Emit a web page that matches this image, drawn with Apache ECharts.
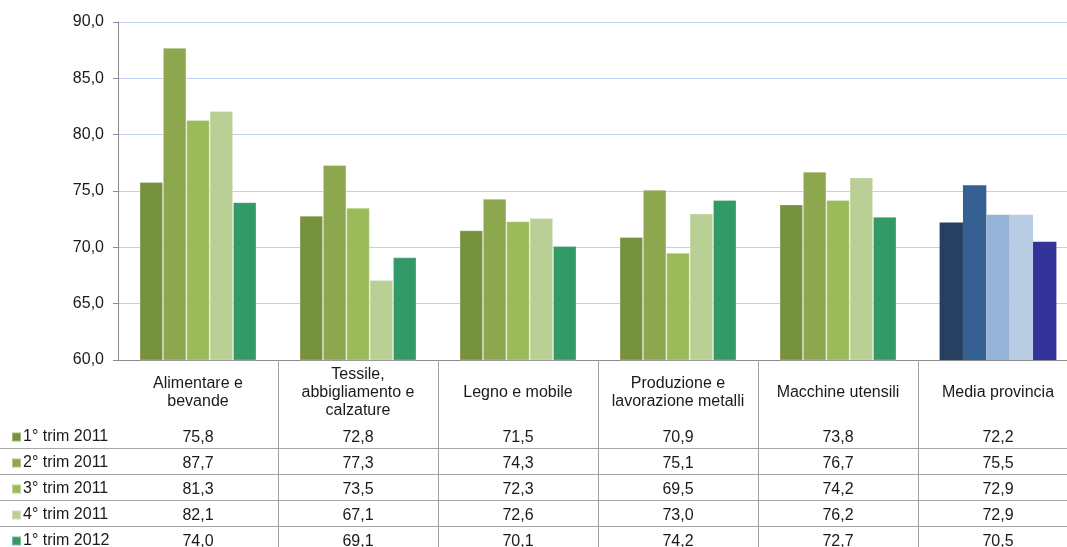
<!DOCTYPE html>
<html>
<head>
<meta charset="utf-8">
<script src="https://cdn.jsdelivr.net/npm/echarts@6/dist/echarts.min.js"></script>
<style>html,body{margin:0;padding:0;background:#fff;}#c{width:1067px;height:547px;}</style>
</head>
<body>
<div id="c"></div>
<script>
const categories = ['Alimentare e\nbevande', 'Tessile,\nabbigliamento e\ncalzature', 'Legno e mobile', 'Produzione e\nlavorazione metalli', 'Macchine utensili', 'Media provincia'];
const seriesNames = ['1° trim 2011', '2° trim 2011', '3° trim 2011', '4° trim 2011', '1° trim 2012'];
const trim1_2011 = [75.8, 72.8, 71.5, 70.9, 73.8, 72.2];
const trim2_2011 = [87.7, 77.3, 74.3, 75.1, 76.7, 75.5];
const trim3_2011 = [81.3, 73.5, 72.3, 69.5, 74.2, 72.9];
const trim4_2011 = [82.1, 67.1, 72.6, 73.0, 76.2, 72.9];
const trim1_2012 = [74.0, 69.1, 70.1, 74.2, 72.7, 70.5];
const yMin = 60, yMax = 90, yStep = 5;

const seriesData = [trim1_2011, trim2_2011, trim3_2011, trim4_2011, trim1_2012];
const greens = ['#76923C', '#8CA74E', '#9BBB59', '#BACF95', '#339966'];
const blues = ['#254061', '#366092', '#95B3D7', '#B9CDE5', '#333399'];
const FONT = "'Liberation Sans', Arial, sans-serif";
const FS = 16;
const fmt = v => v.toFixed(1).replace('.', ',');
const lastIdx = categories.length - 1;
const rowTop = 422, rowH = 26, plotBottom = 360;

const xAxes = [{
  type: 'category', gridIndex: 0, data: categories, position: 'bottom',
  axisLine: { show: true, lineStyle: { color: '#8C8C8C', width: 1 } },
  axisTick: { show: true, length: 190, interval: (i) => i !== 0, lineStyle: { color: '#A0A0A0' } },
  axisLabel: { interval: 0, margin: 33, verticalAlign: 'middle', lineHeight: 18, fontSize: FS, color: '#1a1a1a', fontFamily: FONT }
}];
seriesData.forEach((arr, k) => {
  xAxes.push({
    type: 'category', gridIndex: 0, data: categories, position: 'bottom',
    offset: rowTop + rowH * k + rowH / 2 - plotBottom + 2.5,
    axisLine: { show: false }, axisTick: { show: false },
    axisLabel: { interval: 0, margin: 0, verticalAlign: 'middle', fontSize: FS, color: '#1a1a1a', fontFamily: FONT,
      formatter: (v, i) => fmt(arr[i]) }
  });
});
xAxes.push({ type: 'value', gridIndex: 1, show: false, min: 0, max: 1 });

const series = seriesData.map((arr, k) => ({
  type: 'bar', name: seriesNames[k], xAxisIndex: 0, yAxisIndex: 0,
  barGap: '0%', barCategoryGap: '27%',
  itemStyle: { color: greens[k], borderColor: 'rgba(255,255,255,0.35)', borderWidth: 0.8 },
  data: arr.map((v, i) => i === lastIdx ? { value: v, itemStyle: { color: blues[k], borderWidth: 0 } } : v)
}));

const chart = echarts.init(document.getElementById('c'), null, { renderer: 'canvas' });
chart.setOption({
  animation: false,
  backgroundColor: '#fff',
  textStyle: { fontFamily: FONT },
  grid: [
    { left: 118, width: 960, top: 22, height: plotBottom - 22, outerBoundsMode: 'none', containLabel: false },
    { left: 0, width: 1078, top: rowTop + rowH, height: rowH * 3, outerBoundsMode: 'none', containLabel: false }
  ],
  legend: {
    data: seriesNames, orient: 'vertical', left: 11, top: rowTop + 7, padding: 0, height: 140,
    icon: 'rect', itemWidth: 9, itemHeight: 9, itemGap: 10,
    textStyle: { fontSize: FS, lineHeight: 16, color: '#1a1a1a', fontFamily: FONT, padding: [0, 0, 0, -3] },
    selectedMode: false
  },
  xAxis: xAxes,
  yAxis: [{
    type: 'value', gridIndex: 0, min: yMin, max: yMax, interval: yStep,
    axisLine: { show: true, lineStyle: { color: '#8C8C8C' } },
    axisTick: { show: true, length: 5, lineStyle: { color: '#8C8C8C' } },
    splitLine: { show: true, lineStyle: { color: '#BFD1F0', width: 1 } },
    axisLabel: { margin: 14, fontSize: FS, color: '#1a1a1a', fontFamily: FONT, formatter: v => fmt(v) }
  }, {
    type: 'value', gridIndex: 1, min: 0, max: 3, interval: 1, inverse: true,
    axisLine: { show: false }, axisTick: { show: false }, axisLabel: { show: false },
    splitLine: { show: true, lineStyle: { color: '#A6A6A6', width: 1 } }
  }],
  series: series
});
</script>
</body>
</html>
